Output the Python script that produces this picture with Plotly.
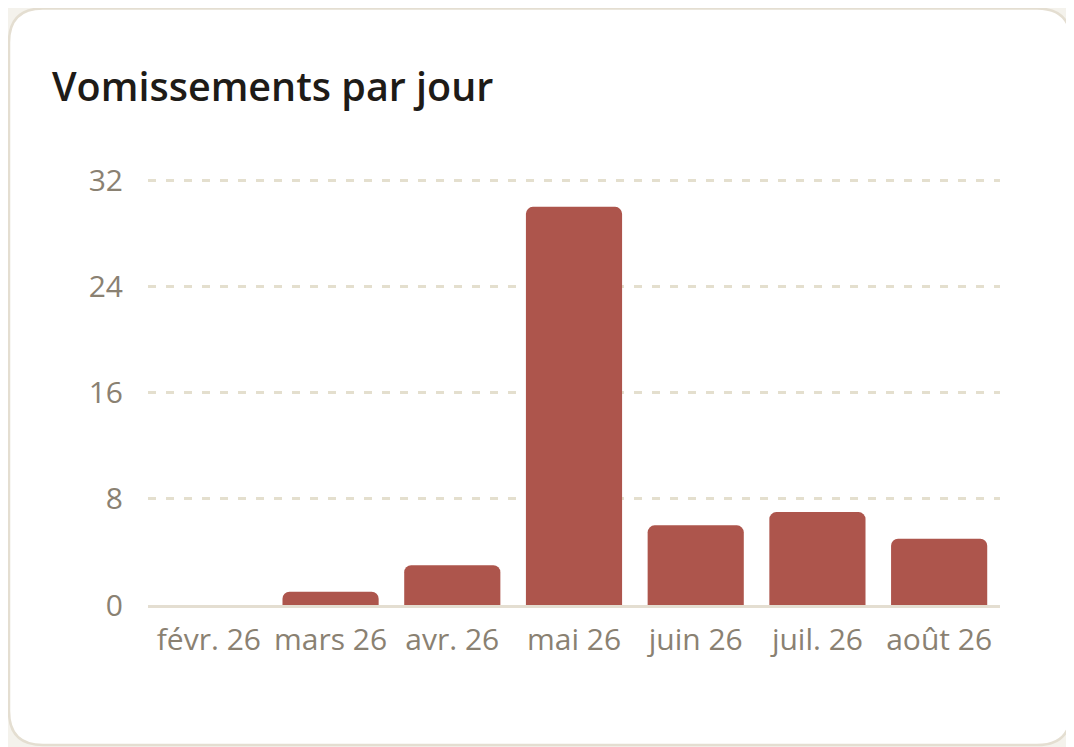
import plotly.graph_objects as go

# Data
months = ["févr. 26", "mars 26", "avr. 26", "mai 26", "juin 26", "juil. 26", "août 26"]
vomissements = [0, 1, 3, 30, 6, 7, 5]
y_ticks = [0, 8, 16, 24, 32]

# the page adds an 8px body margin, so the figure is a bit smaller
W, H = 1066, 739
ML, MR, MT, MB = 140, 74, 167, 142
Y_MAX = 32.4

bar_color = "#AD554C"
grid_color = "#E4DFCE"
tick_color = "#8A8172"
border_color = "#E4DED1"


def px_x(px):
    return (px - ML) / (W - ML - MR)


def px_y(py):
    return (H - MB - py) / (H - MT - MB)


# rounded card outline (pixel coords converted to paper coords)
x0, y0, x1, y1, r = 1, 0.5, 1063, 737, 34
card_path = (
    f"M {px_x(x0 + r)},{px_y(y0)} L {px_x(x1 - r)},{px_y(y0)} "
    f"Q {px_x(x1)},{px_y(y0)} {px_x(x1)},{px_y(y0 + r)} "
    f"L {px_x(x1)},{px_y(y1 - r)} "
    f"Q {px_x(x1)},{px_y(y1)} {px_x(x1 - r)},{px_y(y1)} "
    f"L {px_x(x0 + r)},{px_y(y1)} "
    f"Q {px_x(x0)},{px_y(y1)} {px_x(x0)},{px_y(y1 - r)} "
    f"L {px_x(x0)},{px_y(y0 + r)} "
    f"Q {px_x(x0)},{px_y(y0)} {px_x(x0 + r)},{px_y(y0)} Z"
)

fig = go.Figure(go.Bar(x=months, y=vomissements, marker_color=bar_color,
                       marker_line_width=0, hoverinfo="x+y"))

fig.update_layout(
    width=W, height=H,
    margin=dict(l=ML, r=MR, t=MT, b=MB),
    paper_bgcolor="#F4F2EC",
    plot_bgcolor="rgba(0,0,0,0)",
    bargap=0.21,
    barcornerradius=7,
    showlegend=False,
    font=dict(family="Open Sans, Noto Sans, sans-serif", color=tick_color),
    title=dict(text="Vomissements par jour", x=44 / W, xanchor="left",
               y=1 - 79 / H, yanchor="middle",
               font=dict(size=39.5, color="#1E1B17", weight=600,
                         family="Open Sans, Noto Sans, sans-serif")),
    shapes=[dict(type="path", path=card_path, xref="paper", yref="paper",
                 fillcolor="white", line=dict(color=border_color, width=2.5),
                 layer="below")],
)

fig.update_yaxes(range=[0, Y_MAX], tickvals=y_ticks, showgrid=True,
                 gridcolor=grid_color, griddash="8px,10px", gridwidth=2.5,
                 zeroline=False, showline=False, ticks="", ticklabelstandoff=24,
                 tickfont=dict(size=30, color=tick_color), fixedrange=True)
fig.update_xaxes(showgrid=False, showline=True, linecolor=border_color,
                 linewidth=3, ticks="", ticklabelstandoff=6,
                 tickfont=dict(size=30, color=tick_color), fixedrange=True)

fig.write_html("out.html", config={"displayModeBar": False})
